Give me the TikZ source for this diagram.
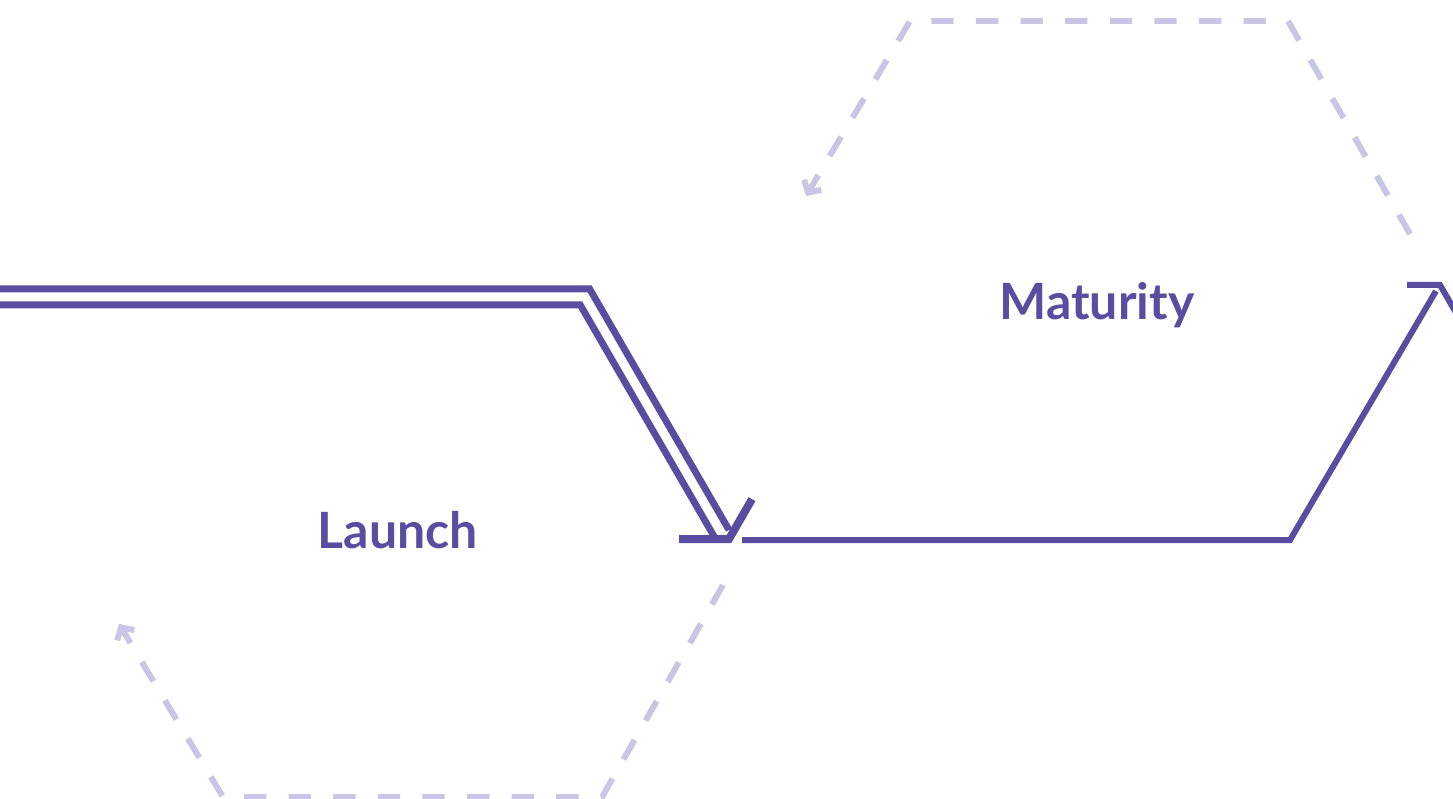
\documentclass[tikz,border=0pt]{standalone}
\usepackage{fontspec}
\setmainfont{Lato}
\usetikzlibrary{arrows.meta}
\definecolor{deep}{RGB}{88,77,160}
\definecolor{pale}{RGB}{201,197,228}
\begin{document}
\begin{tikzpicture}[x=1pt,y=-1pt,
  solidline/.style={draw=deep, line width=6pt, line join=miter},
  doubleline/.style={draw=deep, line width=7pt, double=white, double distance=9pt, line join=miter},
  chevron/.style={draw=deep, line join=miter, miter limit=10},
  dashline/.style={draw=pale, line width=6pt, dash pattern=on 22.3pt off 22.3pt,
    -{Straight Barb[length=9pt,width=20pt,line width=6pt]}},
  stagetext/.style={text=deep, font=\fontsize{50}{60}\selectfont\bfseries, inner sep=0pt, anchor=base}]
\useasboundingbox (0,0) rectangle (1453,799);
% coordinates
\coordinate (dA0) at (1410,234);
\coordinate (dA1) at (1288,21);
\coordinate (dA2) at (910,21);
\coordinate (dA3) at (806,196);
\coordinate (dB0) at (723,585);
\coordinate (dB1) at (602,797);
\coordinate (dB2) at (223,797);
\coordinate (dB3) at (119,624);
\coordinate (s0) at (-20,297);
\coordinate (s1) at (585,297);
\coordinate (s2) at (722,534);
\coordinate (tipA) at (729,539);
\coordinate (armA) at (679,539);
\coordinate (m0) at (742,540);
\coordinate (m1) at (1290,540);
\coordinate (m2) at (1436,291);
\coordinate (tipB) at (1440,285);
\coordinate (armB) at (1407,285);
% dashed cycles
\draw[dashline] (dA0) -- (dA1) -- (dA2) -- (dA3);
\draw[dashline] (dB0) -- (dB1) -- (dB2) -- (dB3);
% main solid path
\draw[doubleline] (s0) -- (s1) -- (s2);
\draw[chevron, line width=8pt] (armA) -- (tipA) -- ++(-60:46);
\draw[solidline] (m0) -- (m1) -- (m2);
\draw[chevron, line width=6pt] (armB) -- (tipB) -- ++(60:45);
% labels
\node[stagetext] (launch) at (398,548) {Launch};
\node[stagetext] (maturity) at (1097,320) {Maturity};
\end{tikzpicture}
\end{document}
